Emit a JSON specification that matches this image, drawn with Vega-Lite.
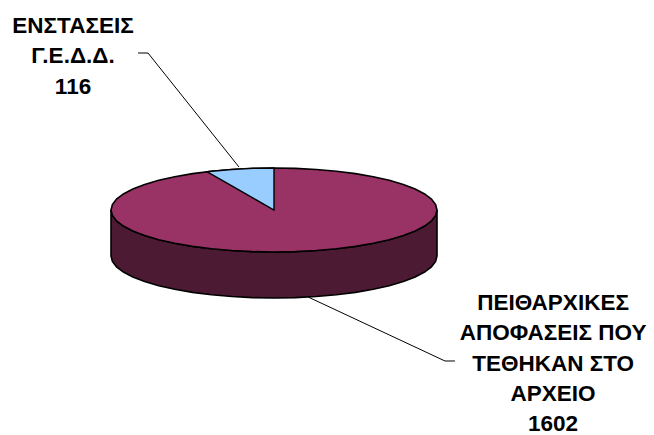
{
"$schema":"https://vega.github.io/schema/vega-lite/v6.json",
"width":654,"height":435,"padding":0,"autosize":"none","background":"white",
"view":{"stroke":null},
"datasets":{
"wall":[
{"x":-1,"y":0,"y2":-1.095},{"x":-0.9914,"y":-0.1305,"y2":-1.2255},{"x":-0.9659,"y":-0.2588,"y2":-1.3538},{"x":-0.9239,"y":-0.3827,"y2":-1.4777},{"x":-0.866,"y":-0.5,"y2":-1.595},{"x":-0.7934,"y":-0.6088,"y2":-1.7038},{"x":-0.7071,"y":-0.7071,"y2":-1.8021},{"x":-0.6088,"y":-0.7934,"y2":-1.8884},{"x":-0.5,"y":-0.866,"y2":-1.961},{"x":-0.3827,"y":-0.9239,"y2":-2.0189},{"x":-0.2588,"y":-0.9659,"y2":-2.0609},{"x":-0.1305,"y":-0.9914,"y2":-2.0864},{"x":0,"y":-1,"y2":-2.095},
{"x":0.1305,"y":-0.9914,"y2":-2.0864},{"x":0.2588,"y":-0.9659,"y2":-2.0609},{"x":0.3827,"y":-0.9239,"y2":-2.0189},{"x":0.5,"y":-0.866,"y2":-1.961},{"x":0.6088,"y":-0.7934,"y2":-1.8884},{"x":0.7071,"y":-0.7071,"y2":-1.8021},{"x":0.7934,"y":-0.6088,"y2":-1.7038},{"x":0.866,"y":-0.5,"y2":-1.595},{"x":0.9239,"y":-0.3827,"y2":-1.4777},{"x":0.9659,"y":-0.2588,"y2":-1.3538},{"x":0.9914,"y":-0.1305,"y2":-1.2255},{"x":1,"y":0,"y2":-1.095}],
"top":[
{"x":-1,"y":0,"y2":0},{"x":-0.9914,"y":0.1305,"y2":-0.1305},{"x":-0.9659,"y":0.2588,"y2":-0.2588},{"x":-0.9239,"y":0.3827,"y2":-0.3827},{"x":-0.866,"y":0.5,"y2":-0.5},{"x":-0.7934,"y":0.6088,"y2":-0.6088},{"x":-0.7071,"y":0.7071,"y2":-0.7071},{"x":-0.6088,"y":0.7934,"y2":-0.7934},{"x":-0.5,"y":0.866,"y2":-0.866},{"x":-0.3827,"y":0.9239,"y2":-0.9239},{"x":-0.2588,"y":0.9659,"y2":-0.9659},{"x":-0.1305,"y":0.9914,"y2":-0.9914},{"x":0,"y":1,"y2":-1},
{"x":0.1305,"y":0.9914,"y2":-0.9914},{"x":0.2588,"y":0.9659,"y2":-0.9659},{"x":0.3827,"y":0.9239,"y2":-0.9239},{"x":0.5,"y":0.866,"y2":-0.866},{"x":0.6088,"y":0.7934,"y2":-0.7934},{"x":0.7071,"y":0.7071,"y2":-0.7071},{"x":0.7934,"y":0.6088,"y2":-0.6088},{"x":0.866,"y":0.5,"y2":-0.5},{"x":0.9239,"y":0.3827,"y2":-0.3827},{"x":0.9659,"y":0.2588,"y2":-0.2588},{"x":0.9914,"y":0.1305,"y2":-0.1305},{"x":1,"y":0,"y2":0}],
"slice":[
{"x":-0.4115,"y":0.9114,"y2":0.9114},{"x":-0.3827,"y":0.9239,"y2":0.8476},{"x":-0.2588,"y":0.9659,"y2":0.5732},{"x":-0.1305,"y":0.9914,"y2":0.289},{"x":0,"y":1,"y2":0}],
"leaders":[
{"label":"116","x":-0.834,"y":3.738},{"label":"116","x":-0.773,"y":3.738},{"label":"116","x":-0.215,"y":1.024},
{"label":"1602","x":0.209,"y":-2.071},{"label":"1602","x":1.049,"y":-3.595},{"label":"1602","x":1.11,"y":-3.595}],
"labels":[
{"lines":["ΕΝΣΤΑΣΕΙΣ","Γ.Ε.Δ.Δ.","116"],"value":116,"x":-1.233,"y":4.214},
{"lines":["ΠΕΙΘΑΡΧΙΚΕΣ","ΑΠΟΦΑΣΕΙΣ ΠΟΥ","ΤΕΘΗΚΑΝ ΣΤΟ","ΑΡΧΕΙΟ","1602"],"value":1602,"x":1.712,"y":-2.381}]
},
"encoding":{
"x":{"field":"x","type":"quantitative","axis":null,"scale":{"domain":[-1,1],"range":[111,437],"nice":false,"zero":false}},
"y":{"field":"y","type":"quantitative","axis":null,"scale":{"domain":[-1,1],"range":[252,168],"nice":false,"zero":false}}
},
"layer":[
{"data":{"name":"wall"},"mark":{"type":"area","orient":"vertical","fill":"#4D1A33","stroke":"#000000","strokeWidth":1.6},"encoding":{"y2":{"field":"y2"}}},
{"data":{"name":"top"},"mark":{"type":"area","orient":"vertical","fill":"#993366","stroke":"#000000","strokeWidth":1.6},"encoding":{"y2":{"field":"y2"}}},
{"data":{"name":"slice"},"mark":{"type":"area","orient":"vertical","fill":"#99CCFF","stroke":"#000000","strokeWidth":1.4},"encoding":{"y2":{"field":"y2"}}},
{"data":{"name":"leaders"},"mark":{"type":"line","stroke":"#000000","strokeWidth":1},"encoding":{"detail":{"field":"label"}}},
{"data":{"name":"labels"},"mark":{"type":"text","font":"Liberation Sans","fontWeight":"bold","fontSize":22.5,"align":"center","baseline":"alphabetic","lineHeight":30.3,"fill":"#000000"},"encoding":{"text":{"field":"lines"}}}
]
}
